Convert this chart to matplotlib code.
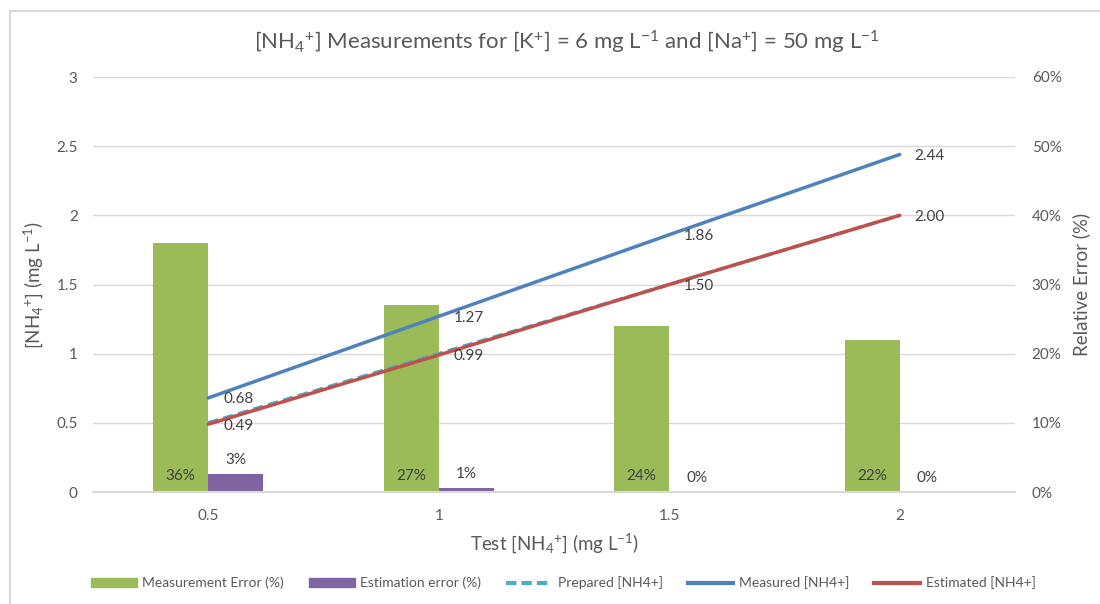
import matplotlib
matplotlib.use("Agg")
import matplotlib.pyplot as plt
from matplotlib.patches import Rectangle, Patch
from matplotlib.lines import Line2D

FONT = "Lato"
plt.rcParams["font.family"] = [FONT, "DejaVu Sans"]
plt.rcParams["mathtext.fontset"] = "custom"
plt.rcParams["mathtext.rm"] = FONT
plt.rcParams["mathtext.it"] = FONT
plt.rcParams["mathtext.bf"] = FONT

# Data
categories = ["0.5", "1", "1.5", "2"]
measurement_error = [36, 27, 24, 22]          # %
estimation_error = [2.6, 0.6, 0.0, 0.0]      # %
prepared = [0.5, 1.0, 1.5, 2.0]              # mg/L
measured = [0.68, 1.27, 1.86, 2.44]          # mg/L
estimated = [0.49, 0.99, 1.50, 2.00]         # mg/L

GREEN = "#9BBB59"
PURPLE = "#8064A2"
BLUE = "#4F81BD"
RED = "#C0504D"
CYAN = "#4BACC6"
GRID = "#D9D9D9"
TXT = "#595959"
LBL = "#404040"

NH4 = r"[NH$_4$$^{{+}}$]"
UNIT = r"(mg L$^{{-1}}$)"

fig = plt.figure(figsize=(11, 6.04), dpi=100)

# frame around the chart
fig.patches.append(Rectangle((10 / 1100, -0.1), 1.2, 1 - 11 / 604 + 0.1,
                             transform=fig.transFigure, fill=False,
                             ec=GRID, lw=1.5, zorder=0))

pos = [93 / 1100, 1 - 492 / 604, (1015 - 93) / 1100, (492 - 77) / 604]
ax_bar = fig.add_axes(pos)            # right axis: relative error bars
ax = fig.add_axes(pos, sharex=ax_bar)  # left axis: concentration lines
ax.set_zorder(ax_bar.get_zorder() + 1)
ax.patch.set_visible(False)

x = list(range(len(categories)))
w = 0.239

# Bars
xg = [i - w / 2 for i in x]
xp = [i + w / 2 for i in x]
ax_bar.bar(xg, measurement_error, width=w, color=GREEN, zorder=2)
ax_bar.bar(xp, estimation_error, width=w, color=PURPLE, zorder=2)
for xi, v in zip(xg, measurement_error):
    ax_bar.annotate(f"{v:.0f}%", (xi, 0), xytext=(0, 16 * 0.72),
                    textcoords="offset points", ha="center", va="center",
                    fontsize=11, color=LBL, zorder=3)
for xi, v in zip(xp, estimation_error):
    ax_bar.annotate(f"{v:.0f}%", (xi, v), xytext=(0, 14 * 0.72),
                    textcoords="offset points", ha="center", va="center",
                    fontsize=11, color=LBL, zorder=3)

ax_bar.set_ylim(0, 60)
ax_bar.set_yticks(range(0, 61, 10))
ax_bar.set_yticklabels([f"{t}%" for t in range(0, 61, 10)])
ax_bar.yaxis.tick_right()
ax_bar.yaxis.set_label_position("right")
ax_bar.grid(axis="y", color=GRID, lw=1.0)
ax_bar.set_axisbelow(True)
ax_bar.tick_params(axis="y", length=0, pad=12, labelsize=11, labelcolor=TXT)
ax_bar.set_ylabel("Relative Error (%)", fontsize=13.5, color=TXT, labelpad=8)

# Lines
ax.plot(x, prepared, color=CYAN, lw=2.5, ls=(0, (3, 1.5)), zorder=3)
ax.plot(x, measured, color=BLUE, lw=2.5, zorder=4, solid_capstyle="round")
ax.plot(x, estimated, color=RED, lw=2.5, zorder=5, solid_capstyle="round")
for series in (measured, estimated):
    for xi, v in zip(x, series):
        ax.annotate(f"{v:.2f}", (xi, v), xytext=(15 * 0.72, -1),
                    textcoords="offset points", ha="left", va="center",
                    fontsize=11, color=LBL, zorder=6)

ax.set_ylim(0, 3)
ax.set_yticks([0, 0.5, 1, 1.5, 2, 2.5, 3])
ax.set_yticklabels(["0", "0.5", "1", "1.5", "2", "2.5", "3"])
ax.set_xlim(-0.5, len(categories) - 0.5)
ax.set_xticks(x)
ax.set_xticklabels(categories)
ax.tick_params(axis="y", length=0, pad=11, labelsize=11, labelcolor=TXT)
ax.tick_params(axis="x", length=0, pad=12, labelsize=11, labelcolor=TXT)
ax_bar.tick_params(axis="x", length=0, labelbottom=False)
ax.set_ylabel(f"{NH4} {UNIT}", fontsize=13.5, color=TXT, labelpad=8)
ax.set_xlabel(f"Test {NH4} {UNIT}", fontsize=13.5, color=TXT, labelpad=6)

for a in (ax, ax_bar):
    for s in ("top", "left", "right", "bottom"):
        a.spines[s].set_visible(False)
ax_bar.spines["bottom"].set_visible(True)
ax_bar.spines["bottom"].set_color(GRID)
ax_bar.spines["bottom"].set_linewidth(1.5)

fig.text(0.515, 1 - 42 / 604,
         f"{NH4} Measurements for [K$^{{+}}$] = 6 mg L$^{{-1}}$ and "
         f"[Na$^{{+}}$] = 50 mg L$^{{-1}}$",
         ha="center", va="center", fontsize=16, color=TXT)

handles = [
    Patch(color=GREEN, label="Measurement Error (%)"),
    Patch(color=PURPLE, label="Estimation error (%)"),
    Line2D([], [], color=CYAN, lw=3, ls=(0, (2.5, 1.2)), label="Prepared [NH4+]"),
    Line2D([], [], color=BLUE, lw=3, label="Measured [NH4+]"),
    Line2D([], [], color=RED, lw=3, label="Estimated [NH4+]"),
]
leg = fig.legend(handles=handles, loc="center", bbox_to_anchor=(0.512, 1 - 583 / 604),
                 ncol=5, frameon=False, fontsize=10, handlelength=3.3,
                 handleheight=0.7, columnspacing=1.8, handletextpad=0.4)
for t in leg.get_texts():
    t.set_color(TXT)

fig.savefig("out.png", dpi=100)
